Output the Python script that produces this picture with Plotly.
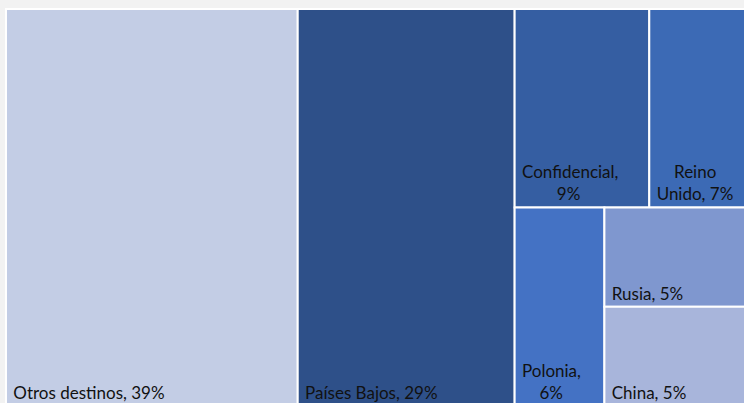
import plotly.graph_objects as go

destinos = ["Otros destinos", "Países Bajos", "Confidencial", "Reino Unido",
            "Polonia", "Rusia", "China"]
cuota_pct = [39, 29, 9, 7, 6, 5, 5]
S = "\u00a0"
etiquetas = [S + "Otros destinos, 39%",
             S + "Países Bajos, 29%",
             S + "Confidencial,<br>" + S * 9 + "9%",
             S * 5 + "Reino<br>" + S + "Unido, 7%",
             S + "Polonia,<br>" + S * 5 + "6%",
             S + "Rusia, 5%",
             S + "China, 5%"]
colores = ["#c3cde5", "#2e5089", "#355ea2", "#3c6ab5", "#4472c4", "#7f97cf", "#a8b5db"]

fig = go.Figure(go.Treemap(
    labels=destinos,
    parents=[""] * len(destinos),
    values=cuota_pct,
    text=etiquetas,
    textinfo="text",
    textposition="bottom left",
    textfont=dict(family="Lato, Carlito, sans-serif", size=17, color="#111111"),
    marker=dict(colors=colores, line=dict(color="white", width=2),
                pad=dict(t=0, l=0, r=0, b=0)),
    tiling=dict(packing="binary", pad=0),
    pathbar=dict(visible=False),
    sort=True,
    hoverinfo="skip",
))

fig.update_layout(
    width=754,
    height=406,
    autosize=False,
    margin=dict(l=6, t=9, r=0, b=0),
    paper_bgcolor="#f2f2f2",
    plot_bgcolor="#f2f2f2",
)

fig.write_html(
    "out.html",
    config={"displayModeBar": False},
    post_script=(
        "document.body.style.margin='0';"
        "document.body.style.overflow='hidden';"
        "document.documentElement.style.overflow='hidden';"
        "document.body.style.background='#f2f2f2';"
    ),
)
